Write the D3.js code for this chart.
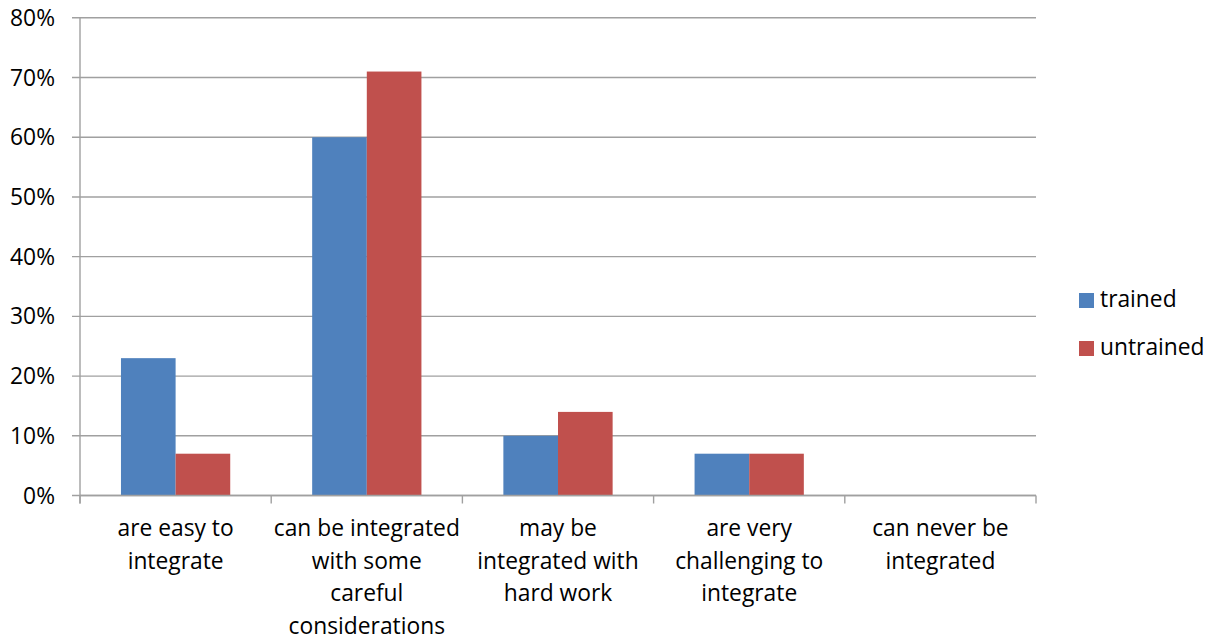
<!DOCTYPE html>
<html>
<head>
<meta charset="utf-8">
<script src="https://cdn.jsdelivr.net/npm/d3@7"></script>
<style>
  html, body { margin: 0; padding: 0; background: #fff; }
  svg { display: block; }
  text { font-family: "Open Sans", "Noto Sans", sans-serif; fill: #000; }
</style>
</head>
<body>
<svg id="chart" width="1212" height="641"></svg>
<script>
// Survey answers: how easily can the topic be integrated
const categories = [
  ["are easy to", "integrate"],
  ["can be integrated", "with some", "careful", "considerations"],
  ["may be", "integrated with", "hard work"],
  ["are very", "challenging to", "integrate"],
  ["can never be", "integrated"]
];
const seriesNames = ["trained", "untrained"];
const trained   = [0.23, 0.60, 0.10, 0.07, 0.00];
const untrained = [0.07, 0.71, 0.14, 0.07, 0.00];
const yTicks = [0, 0.1, 0.2, 0.3, 0.4, 0.5, 0.6, 0.7, 0.8];
const colors = ["#4F81BD", "#C0504D"];

const svg = d3.select("#chart");
const plot = { left: 80, right: 1036, top: 17.8, bottom: 495.5 };
const fontSize = 22.8;
const gridColor = "#a0a0a0";

const x = d3.scaleBand()
  .domain(d3.range(categories.length))
  .range([plot.left, plot.right])
  .paddingInner(0)
  .paddingOuter(0);

// two bars per group, gap of 150% of a bar width split on both sides
const barW = x.bandwidth() / 3.5;
const xInner = d3.scaleBand()
  .domain(seriesNames)
  .range([barW * 0.75, barW * 2.75]);

const y = d3.scaleLinear().domain([0, 0.8]).range([plot.bottom, plot.top]);

// horizontal gridlines with short outward ticks
svg.append("g").selectAll("line")
  .data(yTicks)
  .join("line")
  .attr("x1", plot.left - 8)
  .attr("x2", plot.right)
  .attr("y1", d => y(d))
  .attr("y2", d => y(d))
  .attr("stroke", gridColor)
  .attr("stroke-width", 1.4);

// y axis line
svg.append("line")
  .attr("x1", plot.left).attr("x2", plot.left)
  .attr("y1", plot.top).attr("y2", plot.bottom + 8)
  .attr("stroke", gridColor).attr("stroke-width", 1.4);

// y tick labels
svg.append("g").selectAll("text")
  .data(yTicks)
  .join("text")
  .attr("x", 55)
  .attr("y", d => y(d) + 8)
  .attr("text-anchor", "end")
  .attr("font-size", fontSize)
  .text(d => d3.format(".0%")(d));

// bars
const rows = categories.map((c, i) => ({ i, values: [trained[i], untrained[i]] }));
const groups = svg.append("g").selectAll("g")
  .data(rows)
  .join("g")
  .attr("transform", d => `translate(${x(d.i)},0)`);

groups.selectAll("rect")
  .data(d => d.values.map((v, k) => ({ key: seriesNames[k], v, k })))
  .join("rect")
  .attr("x", d => xInner(d.key))
  .attr("width", xInner.bandwidth())
  .attr("y", d => y(d.v))
  .attr("height", d => y(0) - y(d.v))
  .attr("fill", d => colors[d.k]);

// x axis baseline and category boundary ticks
svg.append("line")
  .attr("x1", plot.left).attr("x2", plot.right)
  .attr("y1", plot.bottom).attr("y2", plot.bottom)
  .attr("stroke", gridColor).attr("stroke-width", 1.4);
const tickPos = d3.range(categories.length + 1).map(i => plot.left + i * x.step());
svg.append("g").selectAll("line")
  .data(tickPos)
  .join("line")
  .attr("x1", d => d).attr("x2", d => d)
  .attr("y1", plot.bottom).attr("y2", plot.bottom + 8)
  .attr("stroke", gridColor).attr("stroke-width", 1.4);

// category labels (multi-line)
const labels = svg.append("g").selectAll("text")
  .data(categories)
  .join("text")
  .attr("text-anchor", "middle")
  .attr("font-size", fontSize)
  .attr("transform", (d, i) => `translate(${x(i) + x.bandwidth() / 2},536)`);
labels.selectAll("tspan")
  .data(d => d)
  .join("tspan")
  .attr("x", 0)
  .attr("y", (d, j) => j * 32.5)
  .text(d => d);

// legend
const legend = svg.append("g").selectAll("g")
  .data(seriesNames)
  .join("g")
  .attr("transform", (d, i) => `translate(1079,${293 + i * 48})`);
legend.append("rect")
  .attr("width", 15).attr("height", 15)
  .attr("fill", (d, i) => colors[i]);
legend.append("text")
  .attr("x", 21)
  .attr("y", 14)
  .attr("font-size", fontSize)
  .text(d => d);
</script>
</body>
</html>
